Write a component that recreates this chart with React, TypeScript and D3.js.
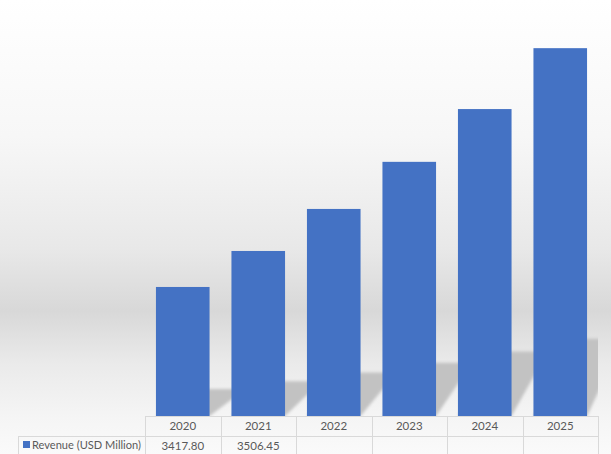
import React from "react";
import * as d3 from "d3";

const years = ["2020", "2021", "2022", "2023", "2024", "2025"];
const revenue = [3417.8, 3506.45, 3610, 3726, 3856, 4006];
const tableValues = ["3417.80", "3506.45", "", "", "", ""];
const seriesName = "Revenue (USD Million)";

const W = 611;
const H = 454;
const plotLeft = 145;
const plotRight = 598;
const baseY = 416;
const rowH = 20;
const tableLeft = 18;
const barColor = "#4472C4";
const gridColor = "#D9D9D9";
const textColor = "#595959";
const font = "Lato, 'Open Sans', sans-serif";

export default function App() {
  const x = d3.scaleBand<string>().domain(years).range([plotLeft, plotRight]).paddingInner(0.29).paddingOuter(0.145);
  const cols = d3.scaleBand<string>().domain(years).range([plotLeft, plotRight]);
  const y = d3.scaleLinear().domain([3100, 4100]).range([baseY, 10]);
  const shadowRatio = 0.21;
  const shadowDx = 36;

  return (
    <svg width={W} height={H} style={{ position: "absolute", left: 0, top: 0 }}>
      <defs>
        <linearGradient id="bg" x1="0" y1="0" x2="0" y2="1">
          <stop offset="0" stopColor="#ffffff" />
          <stop offset="0.3" stopColor="#f7f7f7" />
          <stop offset="0.55" stopColor="#e8e8e8" />
          <stop offset="0.685" stopColor="#d8d8d8" />
          <stop offset="0.8" stopColor="#eaeaea" />
          <stop offset="0.92" stopColor="#f5f5f5" />
          <stop offset="1" stopColor="#fafafa" />
        </linearGradient>
        <filter id="blur" x="-20%" y="-20%" width="140%" height="140%">
          <feGaussianBlur stdDeviation="1.6" />
        </filter>
        <clipPath id="plotClip">
          <rect x={plotLeft} y={0} width={plotRight - plotLeft} height={baseY} />
        </clipPath>
      </defs>
      <rect x={0} y={0} width={W} height={H} fill="url(#bg)" />
      <g clipPath="url(#plotClip)">
        <g filter="url(#blur)">
          {revenue.map((v, i) => {
            const x0 = x(years[i])!;
            const x1 = x0 + x.bandwidth();
            const h = (baseY - y(v)) * shadowRatio;
            const pts = [
              [x0, baseY],
              [x1, baseY],
              [x1 + shadowDx, baseY - h],
              [x0 + shadowDx, baseY - h],
            ];
            return <polygon key={"s" + i} points={pts.map((p) => p.join(",")).join(" ")} fill="#c2c2c2" />;
          })}
        </g>
      </g>
      {revenue.map((v, i) => (
        <rect key={"b" + i} x={x(years[i])} y={y(v)} width={x.bandwidth()} height={baseY - y(v)} fill={barColor} />
      ))}
      <g stroke={gridColor} strokeWidth={1} fill="none" shapeRendering="crispEdges">
        <line x1={plotLeft} x2={plotRight} y1={baseY + 0.5} y2={baseY + 0.5} />
        <line x1={tableLeft} x2={plotRight} y1={baseY + rowH + 0.5} y2={baseY + rowH + 0.5} />
        <line x1={tableLeft + 0.5} x2={tableLeft + 0.5} y1={baseY + rowH} y2={H} />
        {years.map((yr) => (
          <line key={"v" + yr} x1={cols(yr)! + 0.5} x2={cols(yr)! + 0.5} y1={baseY} y2={H} />
        ))}
        <line x1={plotRight + 0.5} x2={plotRight + 0.5} y1={baseY} y2={H} />
      </g>
      <g fontFamily={font} fontSize={11.5} fill={textColor} textAnchor="middle">
        {years.map((yr, i) => (
          <g key={"t" + yr}>
            <text x={cols(yr)! + cols.bandwidth() / 2} y={baseY + 14}>{yr}</text>
            <text x={cols(yr)! + cols.bandwidth() / 2} y={baseY + rowH + 14}>{tableValues[i]}</text>
          </g>
        ))}
      </g>
      <rect x={tableLeft + 5} y={baseY + rowH + 5} width={7} height={7} fill={barColor} />
      <text x={tableLeft + 14} y={baseY + rowH + 13} fontFamily={font} fontSize={11.5} fill={textColor} textLength={109} lengthAdjust="spacingAndGlyphs">
        {seriesName}
      </text>
    </svg>
  );
}
